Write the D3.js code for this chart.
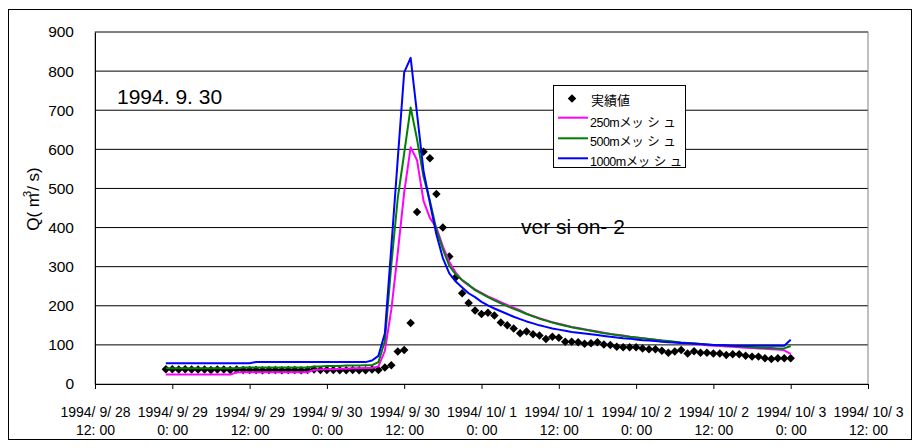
<!DOCTYPE html>
<html>
<head>
<meta charset="utf-8">
<script src="https://cdn.jsdelivr.net/npm/d3@7"></script>
<style>
  html, body { margin: 0; padding: 0; background: #fff; }
  svg text { font-family: "Liberation Sans", Arial, "Noto Sans CJK JP", sans-serif; fill: #000; }
</style>
</head>
<body>
<svg id="chart" width="920" height="448"></svg>
<script>
// Hourly discharge, 1994/9/28 23:00 through 1994/10/3 0:00 (m3/s)
const startTime = new Date(1994, 8, 28, 23, 0);

// 実績値 (observed)
const observed = [
  38, 38, 37, 38, 37, 37, 37, 36, 37, 37, 36, 37,
  36, 36, 36, 35, 36, 36, 35, 36, 36, 35, 36, 37,
  36, 36, 36, 35, 35, 36, 35, 35, 37, 36,
  42, 48, 83, 87, 156, 440, 594, 577, 486, 400, 326,
  273, 232, 207, 188, 179, 182, 175, 157, 150, 142, 130,
  134, 127, 124, 115, 121, 118, 108, 108, 107, 103,
  104, 107, 101, 100, 95, 94, 94, 94, 91, 89, 89,
  85, 80, 83, 87, 78, 84, 80, 80, 78, 78, 74,
  76, 76, 72, 70, 70, 66, 64, 66, 66, 66
];

// 250m mesh model
const mesh250 = [
  24, 24, 24, 24, 24, 24, 24, 24, 24, 24, 24,
  30, 30, 30, 30, 30, 30, 30, 30, 30, 30, 30, 30,
  36, 37, 38, 38, 39, 39, 40, 40, 41, 41,
  45, 85, 190, 335, 490, 605,
  572, 468, 424, 400, 352, 312, 285, 265, 252, 242,
  233, 224, 217, 209, 202, 195, 188, 180, 174, 168,
  163, 158, 154, 150, 146, 143, 140, 137, 134, 131,
  128, 126, 124, 121, 119, 117, 115, 113, 111, 109,
  107, 105, 104, 102, 101, 99, 98, 97, 96, 95,
  94, 93, 92, 91, 90, 89, 88, 86, 77
];

// 500m mesh model
const mesh500 = [
  40, 40, 40, 40, 40, 40, 40, 40, 40, 40, 40, 40,
  42, 42, 42, 42, 42, 42, 42, 42, 42, 42, 42,
  45, 45, 46, 46, 46, 47, 47, 47, 48, 48,
  56, 110, 305, 475, 590, 707,
  625, 530, 468, 395, 345, 302, 280, 266, 254, 240,
  231, 222, 214, 206, 199, 192, 186, 179, 173, 167,
  162, 157, 153, 149, 145, 142, 139, 136, 133, 130,
  128, 125, 123, 121, 119, 117, 115, 113, 111, 110,
  108, 106, 105, 104, 102, 101, 100, 99, 98, 97,
  96, 95, 94, 93, 92, 92, 91, 91, 97
];

// 1000m mesh model
const mesh1000 = [
  53, 53, 53, 53, 53, 53, 53, 53, 53, 53, 53, 53, 53, 53,
  56, 56, 56, 56, 56, 56, 56, 56, 56, 56, 56, 56, 56, 56, 56, 56, 56, 56,
  60, 72, 130, 350, 575, 797, 834,
  690, 545, 462, 382, 322, 283, 262, 247, 232, 222,
  210, 201, 193, 186, 179, 172, 166, 160, 155, 150,
  146, 142, 139, 136, 133, 131, 129, 127, 125, 123,
  121, 119, 117, 116, 114, 112, 111, 110, 108, 107,
  106, 105, 104, 103, 102, 101, 100, 100, 99, 98,
  98, 98, 98, 98, 98, 98, 98, 98, 113
];

const yTicks = [0, 100, 200, 300, 400, 500, 600, 700, 800, 900];
const xTickLabels = [
  ["1994/ 9/ 28", "12: 00"], ["1994/ 9/ 29", "0: 00"], ["1994/ 9/ 29", "12: 00"],
  ["1994/ 9/ 30", "0: 00"], ["1994/ 9/ 30", "12: 00"], ["1994/ 10/ 1", "0: 00"],
  ["1994/ 10/ 1", "12: 00"], ["1994/ 10/ 2", "0: 00"], ["1994/ 10/ 2", "12: 00"],
  ["1994/ 10/ 3", "0: 00"], ["1994/ 10/ 3", "12: 00"]
];

const series = [
  { name: "250mメッシュ", values: mesh250, color: "#ff00ff" },
  { name: "500mメッシュ", values: mesh500, color: "#008000" },
  { name: "1000mメッシュ", values: mesh1000, color: "#0000ff" }
];

const svg = d3.select("#chart");
const plot = { left: 95, right: 868, top: 32, bottom: 384 };

const x = d3.scaleTime()
  .domain([new Date(1994, 8, 28, 12), new Date(1994, 9, 3, 12)])
  .range([plot.left, plot.right]);
const y = d3.scaleLinear().domain([0, 900]).range([plot.bottom, plot.top]);
const timeAt = i => d3.timeHour.offset(startTime, i);

// outer frame
svg.append("rect")
  .attr("x", 8.5).attr("y", 9.5).attr("width", 903).attr("height", 430)
  .attr("fill", "#fff").attr("stroke", "#000");

// horizontal gridlines
svg.append("g").selectAll("line").data(yTicks.filter(v => v > 0)).join("line")
  .attr("x1", plot.left).attr("x2", plot.right)
  .attr("y1", d => y(d)).attr("y2", d => y(d))
  .attr("stroke", "#000").attr("stroke-width", 1);

// plot area border
svg.append("rect")
  .attr("x", plot.left).attr("y", plot.top)
  .attr("width", plot.right - plot.left).attr("height", plot.bottom - plot.top)
  .attr("fill", "none").attr("stroke", "#808080");

// y axis
const yAxis = svg.append("g")
  .attr("transform", `translate(${plot.left},0)`)
  .call(d3.axisLeft(y).tickValues(yTicks).tickSize(0).tickPadding(21));
yAxis.select(".domain").attr("stroke", "#000");
yAxis.selectAll("text").attr("font-size", 15.5).attr("font-family", "Liberation Sans, Arial, sans-serif");

// x axis
const tickDates = d3.timeHour.every(12).range(x.domain()[0], new Date(+x.domain()[1] + 1));
const xAxis = svg.append("g")
  .attr("transform", `translate(0,${plot.bottom})`)
  .call(d3.axisBottom(x).tickValues(tickDates).tickSize(5).tickFormat(() => ""));
xAxis.select(".domain").attr("stroke", "#000");
xAxis.selectAll(".tick line").attr("stroke", "#000");
xAxis.selectAll(".tick text").remove();
xAxis.selectAll(".tick").each(function (d, i) {
  const t = d3.select(this).append("text")
    .attr("text-anchor", "middle").attr("font-size", 14)
    .attr("font-family", "Liberation Sans, Arial, sans-serif");
  t.append("tspan").attr("x", 0).attr("y", 32.5).text(xTickLabels[i][0]);
  t.append("tspan").attr("x", 0).attr("y", 50.5).text(xTickLabels[i][1]);
});

// observed points (diamonds)
const diamond = d3.symbol().type(d3.symbolSquare).size(36);
svg.append("g").selectAll("path").data(observed).join("path")
  .attr("d", diamond)
  .attr("transform", (d, i) => `translate(${x(timeAt(i))},${y(d)}) rotate(45)`)
  .attr("fill", "#000");

// model lines
const line = d3.line().x((d, i) => x(timeAt(i))).y(d => y(d));
svg.append("g").selectAll("path").data(series).join("path")
  .attr("d", s => line(s.values))
  .attr("fill", "none")
  .attr("stroke", s => s.color)
  .attr("stroke-width", 2)
  .attr("stroke-linejoin", "round");

// annotations
svg.append("text").attr("x", 117).attr("y", 104)
  .attr("font-size", 21).text("1994. 9. 30");
svg.append("text").attr("x", 521).attr("y", 234)
  .attr("font-size", 21).text("ver si on- 2");

// y axis title
const yTitle = svg.append("text")
  .attr("transform", "translate(39,199) rotate(-90)")
  .attr("text-anchor", "middle").attr("font-size", 17);
yTitle.append("tspan").text("Q( m");
yTitle.append("tspan").attr("font-size", 11).attr("dy", -8).attr("dx", -4).text("3");
yTitle.append("tspan").attr("dy", 8).text("/ s)");

// legend
const lg = svg.append("g");
lg.append("rect").attr("x", 553.5).attr("y", 85.5).attr("width", 132).attr("height", 82)
  .attr("fill", "#fff").attr("stroke", "none");
lg.append("path").attr("d", diamond)
  .attr("transform", "translate(572,98.5) rotate(45)").attr("fill", "#000");
lg.append("text").attr("x", 591).attr("y", 105).attr("font-size", 13)
  .attr("font-family", "Noto Sans CJK JP, sans-serif").text("実績値");
const rowY = [117.7, 138.3, 158.3];
const rowText = [126.5, 146, 166];
series.forEach((s, i) => {
  lg.append("line").attr("x1", 558).attr("x2", 588)
    .attr("y1", rowY[i]).attr("y2", rowY[i])
    .attr("stroke", s.color).attr("stroke-width", 2);
  const t = lg.append("text").attr("x", 590).attr("y", rowText[i]).attr("font-size", 12.5);
  const m = s.name.indexOf("m") + 1;
  t.append("tspan").attr("letter-spacing", -0.5).text(s.name.slice(0, m + 1));
  t.append("tspan").attr("letter-spacing", 3.5)
    .attr("font-family", "Noto Sans CJK JP, sans-serif").text(s.name.slice(m + 1));
});
lg.append("rect").attr("x", 553.5).attr("y", 85.5).attr("width", 132).attr("height", 82)
  .attr("fill", "none").attr("stroke", "#000");
</script>
</body>
</html>
